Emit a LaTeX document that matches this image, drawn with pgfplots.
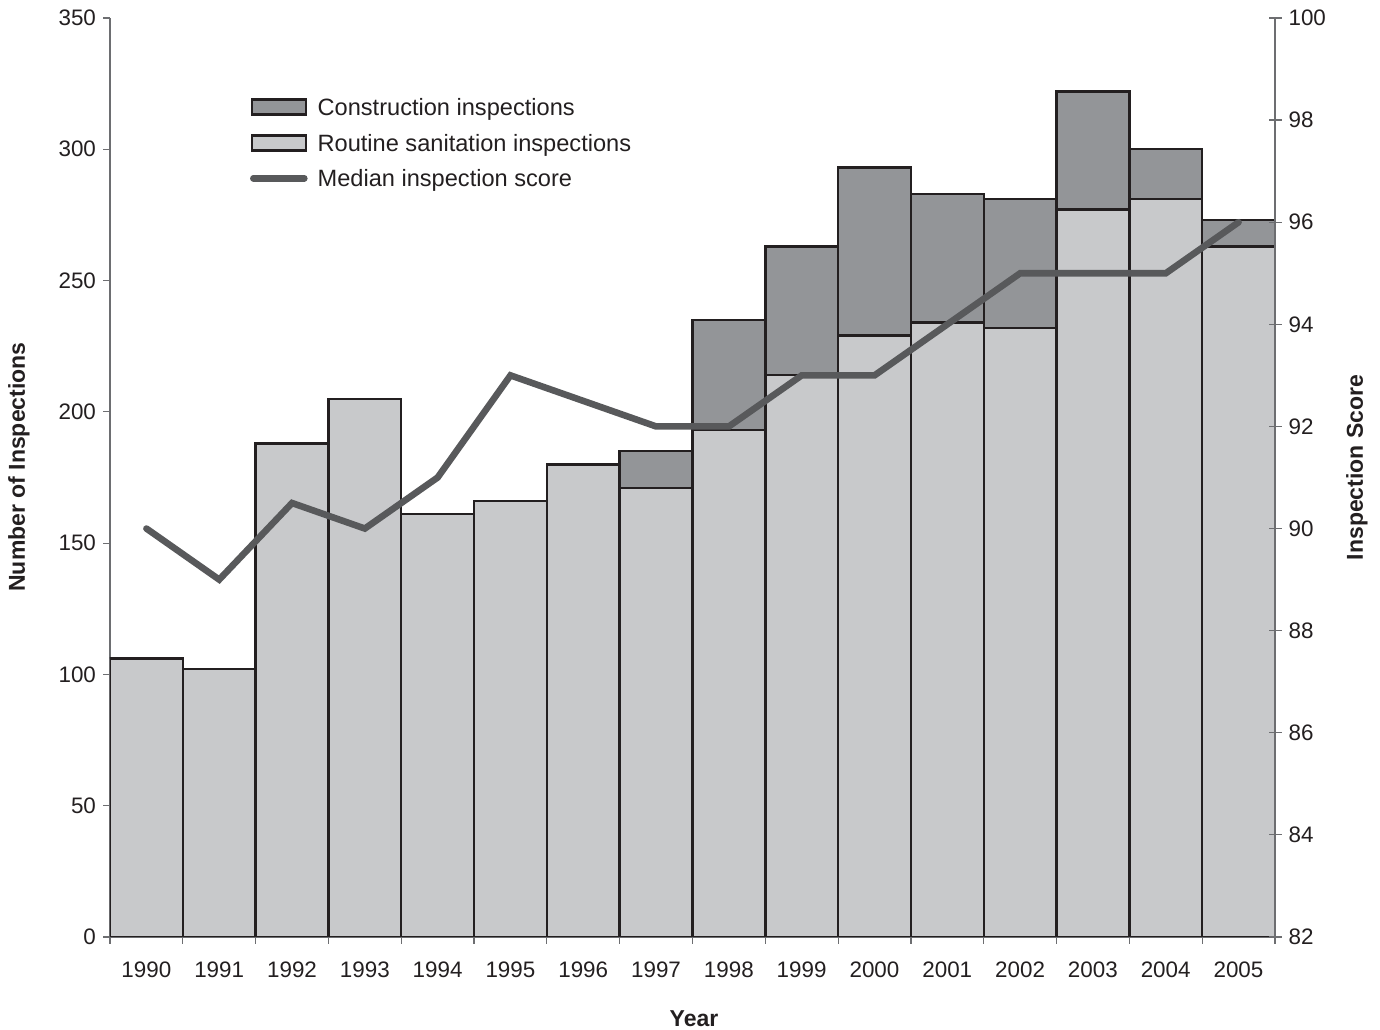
\documentclass[border=0pt]{standalone}
\usepackage{pgfplots}
\pgfplotsset{compat=1.18}
\usepackage{pgfplotstable}
\usepackage{fontspec}
\setmainfont{Liberation Sans}
\definecolor{lightbar}{HTML}{C8C9CB}
\definecolor{darkbar}{HTML}{939598}
\definecolor{edge}{HTML}{231F20}
\definecolor{scoreline}{HTML}{58595B}
\definecolor{axisgray}{HTML}{6D6E71}
\definecolor{txt}{HTML}{231F20}

\newcommand{\tickfont}{\fontsize{11.2}{13.4}\selectfont}
\newcommand{\labfont}{\fontsize{11.5}{13.8}\selectfont\bfseries}
\newcommand{\legfont}{\fontsize{11.8}{14}\selectfont}

\pgfplotsset{
  barlegend/.style={legend image code/.code={\draw[##1] (0pt,-3.75pt) rectangle (27pt,3.75pt);}},
  linelegend/.style={legend image code/.code={\draw[##1] (0.75pt,0pt) -- (26.25pt,0pt);}},
  common/.style={
    scale only axis, width=582.5pt, height=459.5pt,
    xmin=1989.5, xmax=2005.5,
    /pgf/number format/assume math mode=true,
    /pgf/number format/1000 sep={},
    tick label style={font=\tickfont, text=txt},
    axis line style={draw=axisgray, line width=0.6pt},
    every tick/.style={draw=axisgray, line width=0.6pt},
  },
}

\pgfplotstableread{
year routine construction
1990 106 0
1991 102 0
1992 188 0
1993 205 0
1994 161 0
1995 166 0
1996 180 0
1997 171 14
1998 193 42
1999 214 49
2000 229 64
2001 234 49
2002 232 49
2003 277 45
2004 281 19
2005 263 10
}\inspections

\pgfplotstableread{
year score
1990 90
1991 89
1992 90.5
1993 90
1994 91
1995 93
1996 92.5
1997 92
1998 92
1999 93
2000 93
2001 94
2002 95
2003 95
2004 95
2005 96
}\scores

\begin{document}
\begin{tikzpicture}[font=\tickfont]
\begin{axis}[common, name=main,
  ymin=0, ymax=350, ytick={0,50,...,350},
  xtick={1990,...,2005},
  minor xtick={1989.5,1990.5,...,2005.5},
  axis x line*=bottom, axis y line*=left,
  tick align=outside, major tick length=3.5pt, minor tick length=3.5pt,
  major x tick style={draw=none},
  xticklabel style={anchor=base, yshift=-17pt},
  ybar, bar width=1, bar shift=0pt,
  ylabel={Number of Inspections},
  xlabel={Year},
  every axis y label/.style={at={(axis description cs:-0.0781,0.5114)}, rotate=90, anchor=center, font=\labfont, text=txt},
  every axis x label/.style={at={(axis description cs:0.5013,-0.0892)}, anchor=center, font=\labfont, text=txt},
]
% construction stacked on routine: full stack drawn first, routine part drawn over it
\addplot[fill=darkbar, draw=edge, line width=1.2pt] table[x=year, y expr=\thisrow{routine}+\thisrow{construction}] {\inspections};
\addplot[fill=lightbar, draw=edge, line width=1.2pt] table[x=year, y=routine] {\inspections};
\end{axis}
\begin{axis}[common, name=second,
  ymin=82, ymax=100, ytick={82,84,...,100},
  axis x line=none, axis y line*=right,
  tick align=center, major tick length=6.5pt,
  ylabel={Inspection Score},
  every axis y label/.style={at={(axis description cs:1.0704,0.5108)}, rotate=90, anchor=center, font=\labfont, text=txt},
  legend style={at={(axis description cs:0.1202,0.9124)}, anchor=north west, draw=none, fill=none,
    inner sep=0pt, outer sep=0pt, row sep=9.25pt, column sep=5pt,
    font=\legfont, text=txt,
    cells={anchor=west},
    nodes={inner sep=0pt, text height=8pt, text depth=0pt}},
]
\addlegendimage{barlegend, fill=darkbar, draw=edge, line width=1.2pt}
\addlegendentry{Construction inspections}
\addlegendimage{barlegend, fill=lightbar, draw=edge, line width=1.2pt}
\addlegendentry{Routine sanitation inspections}
\addplot[linelegend, draw=scoreline, line width=3.3pt, line cap=round, line join=miter, mark=none] table[x=year, y=score] {\scores};
\addlegendentry{Median inspection score}
\end{axis}
\pgfresetboundingbox
\path[use as bounding box] ([shift={(-55pt,-46.5pt)}]main.south west) rectangle ([shift={(52.5pt,9pt)}]main.north east);
\end{tikzpicture}
\end{document}
